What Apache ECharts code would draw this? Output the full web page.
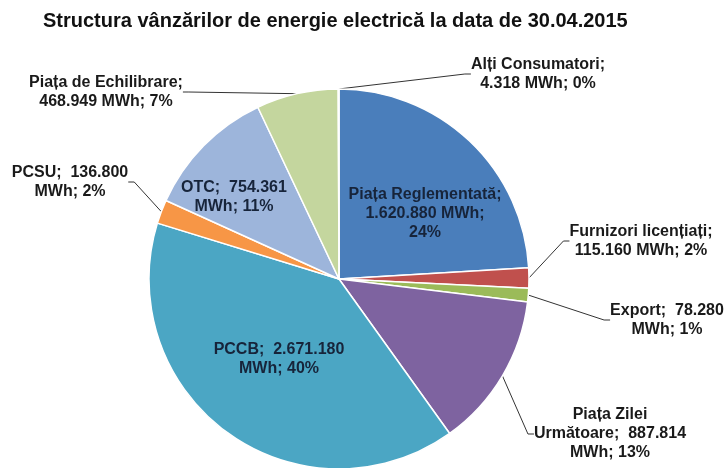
<!DOCTYPE html>
<html>
<head>
<meta charset="utf-8">
<script src="https://cdn.jsdelivr.net/npm/echarts@6/dist/echarts.min.js"></script>
<style>
    html, body { margin: 0; padding: 0; background: #fff; }
    #chart { width: 728px; height: 468px; }
</style>
</head>
<body>
<div id="chart"></div>
<script>
// date: vanzari energie electrica (MWh), 30.04.2015
var categories = ['Piața Reglementată', 'Furnizori licențiați', 'Export', 'Piața Zilei Următoare',
    'PCCB', 'PCSU', 'OTC', 'Piața de Echilibrare', 'Alți Consumatori'];
var values = [1620880, 115160, 78280, 887814, 2671180, 136800, 754361, 468949, 4318];
var colors = ['#4A7EBB', '#C0504D', '#9BBB59', '#7E63A0', '#4BA6C4', '#F79646', '#9DB5DB', '#C4D69E', '#4A7EBB'];
var insideLabels = ['Piața Reglementată', 'PCCB', 'OTC'];

// cum se rupe textul etichetei (ca in Excel)
var labelTpl = [
    '{n};\n{v} MWh;\n{p}%',
    '{n};\n{v} MWh; {p}%',
    '{n};  {v}\nMWh; {p}%',
    '{n1}\n{n2};  {v}\nMWh; {p}%',
    '{n};  {v}\nMWh; {p}%',
    '{n};  {v}\nMWh; {p}%',
    '{n};  {v}\nMWh; {p}%',
    '{n};\n{v} MWh; {p}%',
    '{n};\n{v} MWh; {p}%'
];
// pozitia etichetelor (centru)
var labelPos = [[425, 214], [641, 241], [667, 320], [610, 434], [279, 359],
    [70, 182], [234, 197], [106, 92], [538, 74]];

function fmtNum(v) {
    return String(v).replace(/\B(?=(\d{3})+(?!\d))/g, '.');
}

var myChart = echarts.init(document.getElementById('chart'));

var pieData = categories.map(function (name, i) {
    var inside = insideLabels.indexOf(name) >= 0;
    return {
        name: name,
        value: values[i],
        itemStyle: { color: colors[i] },
        label: {
            position: inside ? 'inside' : 'outside',
            color: inside ? '#17243A' : '#1A1A1A'
        },
        labelLine: { show: !inside }
    };
});

var option = {
    animation: false,
    title: {
        text: 'Structura vânzărilor de energie electrică la data de 30.04.2015',
        left: 38,
        top: 6,
        textStyle: {
            fontFamily: 'Liberation Sans',
            fontWeight: 'bold',
            fontSize: 20,
            color: '#111'
        }
    },
    series: [{
        name: 'Vanzari',
        type: 'pie',
        center: [339, 279],
        radius: 190,
        startAngle: 90,
        avoidLabelOverlap: false,
        itemStyle: {
            borderColor: '#fff',
            borderWidth: 1.5
        },
        label: {
            fontFamily: 'Liberation Sans',
            fontWeight: 'bold',
            fontSize: 16,
            lineHeight: 19,
            align: 'center',
            formatter: function (p) {
                var words = p.name.split(' ');
                return labelTpl[p.dataIndex]
                    .replace('{n1}', words.slice(0, 2).join(' '))
                    .replace('{n2}', words.slice(2).join(' '))
                    .replace('{n}', p.name)
                    .replace('{v}', fmtNum(p.value))
                    .replace('{p}', Math.round(p.percent));
            }
        },
        labelLine: {
            length: 10,
            length2: 6,
            lineStyle: { color: '#333', width: 1 }
        },
        labelLayout: function (params) {
            var pos = labelPos[params.dataIndex];
            return {
                x: pos[0],
                y: pos[1],
                align: 'center',
                verticalAlign: 'middle'
            };
        },
        data: pieData
    }]
};

myChart.setOption(option);
</script>
</body>
</html>
